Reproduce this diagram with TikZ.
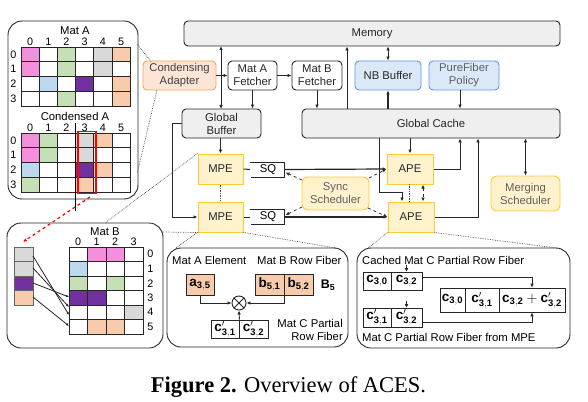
\documentclass[tikz,border=0pt]{standalone}
\usepackage{fontspec}
\setmainfont{Liberation Sans}
\newfontfamily\capfont{Liberation Serif}
\usetikzlibrary{arrows.meta}
\definecolor{pk}{RGB}{243,143,221}
\definecolor{gr}{RGB}{197,224,180}
\definecolor{gy}{RGB}{217,217,217}
\definecolor{pc}{RGB}{248,203,173}
\definecolor{bl}{RGB}{189,215,238}
\definecolor{pu}{RGB}{112,48,160}
\definecolor{wh}{RGB}{255,255,255}
\definecolor{boxgray}{RGB}{239,239,239}
\definecolor{adfill}{RGB}{252,229,214}
\definecolor{addraw}{RGB}{244,164,96}
\definecolor{blfill}{RGB}{218,232,248}
\definecolor{bldraw}{RGB}{100,150,222}
\definecolor{yefill}{RGB}{255,242,204}
\definecolor{yedraw}{RGB}{252,204,50}
\definecolor{txtgray}{RGB}{95,95,95}
\begin{document}
\begin{tikzpicture}[x=1pt,y=-1pt,
  font=\fontsize{11.3}{13}\selectfont,
  arr/.style={-{Latex[length=4pt,width=3.5pt]}},
  darr/.style={{Latex[length=4pt,width=3.5pt]}-{Latex[length=4pt,width=3.5pt]}},
  conn/.style={line width=1pt, black!85},
  box/.style={draw=black!85, line width=0.9pt, rounded corners=4pt, fill=boxgray, text=black!85, align=center, inner sep=0pt},
  wbox/.style={box, fill=white},
  abox/.style={box, fill=adfill, draw=addraw, text=black!75},
  bbox/.style={box, fill=blfill, draw=bldraw},
  ybox/.style={box, fill=yefill, draw=yedraw, text=txtgray},
  pe/.style={draw=yedraw, line width=1pt, fill=yefill, minimum width=45pt, minimum height=30pt, inner sep=0pt, text=black!85},
  panel/.style={draw=black!85, line width=0.9pt, rounded corners=14pt},
  cell/.style={draw=black!85, line width=0.8pt},
  zoomline/.style={densely dotted, line width=0.7pt, black!70},
  mbox/.style={draw=black!85, line width=0.8pt, inner sep=0pt, minimum height=18pt, font=\fontsize{13.5}{15}\selectfont},
  lbl/.style={inner sep=0pt},
  num/.style={inner sep=0pt, font=\fontsize{10.8}{12}\selectfont}
]
\useasboundingbox (0,0) rectangle (588,401);

% ---------- top-left panel: Mat A / Condensed A ----------
\draw[panel] (8,21) rectangle (138,199);
\node[lbl] (matA) at (75,31) {Mat A};
\foreach \row [count=\r from 0] in {{pk,wh,gr,wh,gy,pc},{pk,wh,gr,wh,gy,wh},{wh,bl,wh,pu,wh,pc},{wh,wh,gr,wh,wh,pc}}{
  \foreach \c [count=\i from 0] in \row {
    \filldraw[cell, fill=\c] ({21+\i*18.2},{47+\r*14.8}) rectangle ++(18.2,14.8);
  }
}
\foreach \i in {0,...,5} \node[num] (ac\i) at ({21+(\i+0.5)*18.2},42) {\i};
\foreach \i in {0,...,3} \node[num] (ar\i) at (13.5,{47+(\i+0.5)*14.8}) {\i};

\node[lbl] (condA) at (75,116.5) {Condensed A};
\foreach \row [count=\r from 0] in {{pk,gr,wh,gy,pc,wh},{pk,gr,wh,gy,wh,wh},{bl,wh,wh,pu,pc,wh},{gr,wh,wh,pc,wh,wh}}{
  \foreach \c [count=\i from 0] in \row {
    \filldraw[cell, fill=\c] ({21+\i*18.2},{133+\r*14.8}) rectangle ++(18.2,14.8);
  }
}
\foreach \i in {0,...,5} \node[num] (cc\i) at ({21+(\i+0.5)*18.2},127.5) {\i};
\foreach \i in {0,...,3} \node[num] (cr\i) at (13.5,{133+(\i+0.5)*14.8}) {\i};
\draw[line width=1.5pt, red] (78,131.5) rectangle (96,193.5);
\draw[line width=1.6pt, black] (75.6,123) -- (75.6,211);
\coordinate (redS) at (90,197);
\coordinate (redE) at (23,242);
\draw[red, dashed, line width=1.2pt, arr] (redS) -- (redE);

% ---------- Mat B panel ----------
\draw[panel] (7,223) rectangle (163,348);
\node[lbl] (matB) at (105,231.5) {Mat B};
\foreach \row [count=\r from 0] in {{wh,pk,pk,wh},{bl,wh,wh,wh},{gr,wh,gr,wh},{pu,pu,wh,wh},{wh,wh,wh,gy},{wh,pc,pc,wh}}{
  \foreach \c [count=\i from 0] in \row {
    \filldraw[cell, fill=\c] ({69+\i*18.5},{247+\r*14.5}) rectangle ++(18.5,14.5);
  }
}
\foreach \i in {0,...,3} \node[num] (bc\i) at ({69+(\i+0.5)*18.5},242) {\i};
\foreach \i in {0,...,5} \node[num] (br\i) at (150.5,{247+(\i+0.5)*14.5}) {\i};
\foreach \c [count=\i from 0] in {gy,gy,pu,pc} {
  \filldraw[cell, draw=black!60, fill=\c] (14,{247+\i*14.5}) rectangle ++(19,14.5);
}
\coordinate (v0) at (33,256);
\coordinate (v1) at (33,268);
\coordinate (v2) at (33,283);
\coordinate (v3) at (33,297);
\coordinate (g0) at (69,315);
\coordinate (g1) at (69,307);
\coordinate (g2) at (69,297);
\coordinate (g3) at (69,326);
\foreach \k in {0,1,2,3} \draw[line width=0.8pt, black!85, -{Latex[length=3pt,width=2.5pt]}] (v\k) -- (g\k);

% ---------- top row ----------
\node[box, minimum width=376pt, minimum height=25pt] (mem) at (372,33.5) {Memory};
\node[abox, minimum width=73pt, minimum height=29pt] (adapt) at (179.5,75.5) {Condensing\\Adapter};
\node[wbox, minimum width=49pt, minimum height=29pt] (fa) at (252.5,75.5) {Mat A\\Fetcher};
\node[wbox, minimum width=50pt, minimum height=29pt] (fb) at (317,75.5) {Mat B\\Fetcher};
\node[bbox, minimum width=66pt, minimum height=29pt] (nb) at (388,75.5) {NB Buffer};
\node[bbox, minimum width=70pt, minimum height=29pt, text=txtgray] (pf) at (464,75.5) {PureFiber\\Policy};
\node[box, minimum width=79pt, minimum height=29pt] (gb) at (221.5,123.5) {Global\\Buffer};
\node[box, minimum width=258pt, minimum height=29pt] (gc) at (431,123.5) {Global Cache};

\draw[conn, darr] (221,46) -- (221,109);
\draw[conn, arr] (adapt.east) -- (fa.west);
\draw[conn, arr] (fa.east) -- (fb.west);
\draw[conn, arr] (fa.south) -- (gb.north -| fa.south);
\draw[conn, arr] (fb.south) -- (gc.north -| fb.south);
\draw[conn, arr] (gc.north -| 347,0) -- (mem.south -| 347,0);
\draw[conn, darr] (mem.south -| nb.north) -- (nb.north);
\draw[line width=1.6pt, black!85, arr] (gc.north -| nb.south) -- (nb.south);
\draw[conn, arr] (pf.south -| 460,0) -- (gc.north -| 460,0);

% ---------- PEs ----------
\node[pe] (mpe1) at (220.5,169) {MPE};
\node[pe] (mpe2) at (220.5,217) {MPE};
\node[pe, minimum width=46pt] (ape1) at (410,169) {APE};
\node[pe, minimum width=46pt] (ape2) at (411,217) {APE};
\node[ybox, minimum width=67pt, minimum height=33pt, rounded corners=6pt] (sync) at (335.5,193.5) {Sync\\Scheduler};
\node[ybox, minimum width=69pt, minimum height=35pt, rounded corners=6pt] (merge) at (525.5,193.5) {Merging\\Scheduler};

% SQ queues
\node[lbl] (sq1) at (268,169.5) {SQ};
\node[lbl] (sq2) at (268,217) {SQ};
\draw[line width=1pt, black!85] (250,162) -- (284,162) -- (284,177) -- (251,177);
\draw[line width=1pt, black!85] (250,209.5) -- (284,209.5) -- (284,224.5) -- (251,224.5);
\coordinate (sq1w) at (250,169.5);
\coordinate (sq1e) at (284,169.5);
\coordinate (sq2w) at (250,217);
\coordinate (sq2e) at (284,217);

\draw[conn, arr] (gb.south -| mpe1.north) -- (mpe1.north);
\draw[conn, arr] (gb.west) -- (172,123.5) -- (172,217) -- (mpe2.west);
\draw[conn] (mpe1.east) -- (sq1w);
\draw[conn] (mpe2.east) -- (sq2w);
\draw[line width=1.2pt, black!85, arr] (sq1e) -- (ape1.west);
\draw[line width=1.2pt, black!85, arr] (sq2e) -- (ape2.west);
\draw[zoomline] (mpe1.south) -- (mpe2.north);

\draw[dashed, line width=0.8pt, black!80, arr] (302,180) -- (285.5,172.5);
\draw[dashed, line width=0.8pt, black!80, arr] (302,207) -- (285.5,215);
\draw[dashed, line width=0.8pt, black!80, arr] (369,178) -- (ape1.west);
\draw[dashed, line width=0.8pt, black!80, arr] (368,208) -- (ape2.west);

\draw[conn, arr] (gc.south -| ape1.north) -- (ape1.north);
\draw[conn, arr] (ape1.east) -- (460,169) -- (gc.south -| 460,0);
\draw[conn, arr] (ape2.east) -- (478,217) -- (gc.south -| 478,0);
\draw[conn, arr] (gc.south -| 379,0) -- (379,192) -- (402,192) -- (ape2.north -| 402,0);
\draw[conn, darr] (gc.south -| merge.north) -- (merge.north);
\draw[zoomline] (409,184) -- (409,202);
\draw[dashed, line width=0.9pt, black!85, darr] (ape1.south -| 423,0) -- (ape2.north -| 423,0);

% ---------- middle panel ----------
\draw[panel] (167,248) rectangle (348,347);
\node[lbl, anchor=west] (tAe) at (172,260) {Mat A Element};
\node[lbl, anchor=west] (tBr) at (257,260) {Mat B Row Fiber};
\node[mbox, fill=pc, minimum width=28pt, minimum height=21pt] (a35) at (200,284.5) {$\mathbf{a}_{\mathbf{3,5}}$};
\node[mbox, fill=pc, minimum width=29pt, minimum height=21pt] (b51) at (269.5,284.5) {$\mathbf{b}_{\mathbf{5,1}}$};
\node[mbox, fill=pc, minimum width=29pt, minimum height=21pt] (b52) at (298.5,284.5) {$\mathbf{b}_{\mathbf{5,2}}$};
\node[lbl, font=\fontsize{12.5}{14}\selectfont] (B5) at (328,285) {$\mathbf{B}_{\mathbf{5}}$};
\node[circle, draw=black!85, line width=0.9pt, minimum size=14pt, inner sep=0pt] (ox) at (239,303) {};
\draw[line width=0.9pt, black!85] (ox.north west) -- (ox.south east) (ox.north east) -- (ox.south west);
\node[mbox, fill=white, minimum width=28pt, minimum height=18pt] (c31) at (225,329) {$\mathbf{c}'_{\mathbf{3,1}}$};
\node[mbox, fill=white, minimum width=29pt, minimum height=18pt] (c32) at (253.5,329) {$\mathbf{c}'_{\mathbf{3,2}}$};
\draw[line width=0.9pt, black!85, arr] (a35.south) |- (ox.west);
\draw[line width=0.9pt, black!85, arr] (b51.south east) |- (ox.east);
\draw[line width=0.9pt, black!85, arr] (c31.north east) -- (ox.south);
\node[lbl, anchor=east, align=right] (tCp) at (343,330) {Mat C Partial\\Row Fiber};

% ---------- right panel ----------
\draw[panel] (357,248) rectangle (570,348);
\node[lbl, anchor=west] (tCc) at (362,260) {Cached Mat C Partial Row Fiber};
\node[mbox, fill=white, minimum width=28pt] (rc30) at (377,281) {$\mathbf{c}_{\mathbf{3,0}}$};
\node[mbox, fill=white, minimum width=31pt] (rc32) at (406.5,281) {$\mathbf{c}_{\mathbf{3,2}}$};
\node[mbox, fill=white, minimum width=28pt, minimum height=19pt] (rp31) at (377,317.5) {$\mathbf{c}'_{\mathbf{3,1}}$};
\node[mbox, fill=white, minimum width=31pt, minimum height=19pt] (rp32) at (406.5,317.5) {$\mathbf{c}'_{\mathbf{3,2}}$};
\node[mbox, fill=white, minimum width=25pt, minimum height=24pt] (s1) at (452.5,300) {$\mathbf{c}_{\mathbf{3,0}}$};
\node[mbox, fill=white, minimum width=34pt, minimum height=24pt] (s2) at (482,300) {$\mathbf{c}'_{\mathbf{3,1}}$};
\node[mbox, fill=white, minimum width=66pt, minimum height=24pt] (s3) at (532,300) {$\mathbf{c}_{\mathbf{3,2}}+\mathbf{c}'_{\mathbf{3,2}}$};
\node[lbl, anchor=west] (tCm) at (362,337) {Mat C Partial Row Fiber from MPE};
\coordinate (k1) at (406.5,265);
\coordinate (k2) at (406.5,300.5);
\draw[line width=1.6pt, black!85, -{Latex[length=3.5pt,width=4pt]}] (k1) -- (rc32.north);
\draw[line width=1.6pt, black!85, -{Latex[length=3.5pt,width=4pt]}] (k2) -- (rp32.north);
\draw[line width=0.9pt, black!85, arr] ([yshift=4pt]rc32.east) -| (s3.north);
\draw[line width=0.9pt, black!85, arr] ([yshift=-5pt]rp32.east) -| (s3.south);

% ---------- zoom (dotted) lines ----------
\draw[zoomline] (137,44) -- (151,61.5);
\draw[zoomline] (157,90) -- (137.5,172);
\draw[zoomline] (mpe1.north west) -- (105,223);
\draw[zoomline] (mpe2.south west) -- (161.5,232);
\draw[zoomline] (mpe2.south west) -- (176,248);
\draw[zoomline] (mpe2.south east) -- (336,248);
\draw[zoomline] (ape2.south west) -- (368,248);
\draw[zoomline] (ape2.south east) -- (557,248);

% ---------- caption ----------
\node[lbl, anchor=base, font=\capfont\fontsize{22.5}{26}\selectfont] (cap) at (288.5,392) {\textbf{Figure 2.} Overview of ACES.};
\end{tikzpicture}
\end{document}
